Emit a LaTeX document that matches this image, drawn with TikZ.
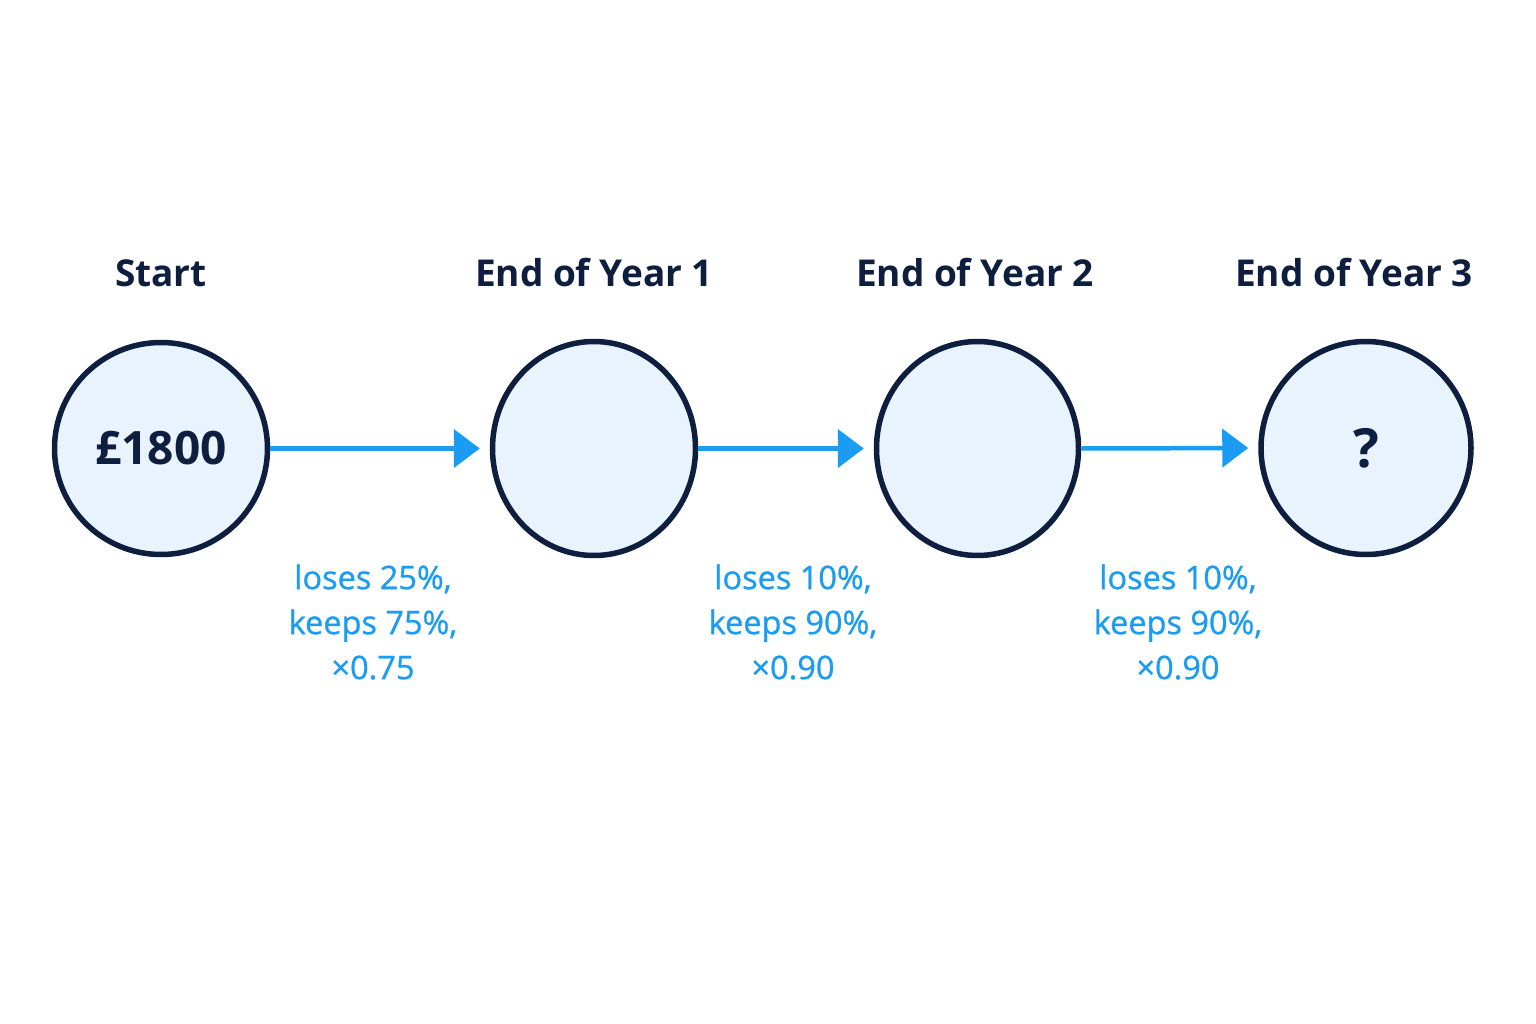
\documentclass[tikz,border=0pt]{standalone}
\usepackage{fontspec}
\setmainfont{Open Sans}
\newfontfamily\lblfont[FakeBold=0.8]{Open Sans}
\usetikzlibrary{arrows.meta,shapes.geometric}
\definecolor{navy}{HTML}{0E1E3F}
\definecolor{fillc}{HTML}{E9F3FD}
\definecolor{blu}{HTML}{1A9CF2}
\begin{document}
\begin{tikzpicture}[x=1pt,y=-1pt,
  stage/.style={ellipse,draw=navy,line width=5.5pt,fill=fillc,inner sep=0pt,font=\fontsize{46}{50}\selectfont\bfseries,text=navy},
  title/.style={font=\fontsize{37}{42}\selectfont\bfseries,text=navy},
  lbl/.style={font=\fontsize{32.5}{45}\lblfont,text=blu,align=center},
  flow/.style={draw=blu,line width=4.5pt,-{Triangle[length=26pt,width=38pt]},shorten >=10pt}]
\useasboundingbox (0,0) rectangle (1536,1024);
\fill[white] (0,0) rectangle (1536,1024);
\node[stage,minimum width=213pt,minimum height=212pt] (s0) at (161,448.5) {£1800};
\node[stage,minimum width=203pt,minimum height=214pt] (s1) at (594,448.5) {};
\node[stage,minimum width=202pt,minimum height=214pt] (s2) at (977.5,448.5) {};
\node[stage,minimum width=210pt,minimum height=213pt,font=\fontsize{54}{58}\selectfont\bfseries] (s3) at (1366,448) {?};
\node[title] (t0) at (161,273) {Start};
\node[title] (t1) at (594,273) {End of Year 1};
\node[title] (t2) at (975,273) {End of Year 2};
\node[title] (t3) at (1354,273) {End of Year 3};
\draw[flow] (s0.east) -- (s1.west);
\draw[flow] (s1.east) -- (s2.west);
\draw[flow] (s2.east) -- (s3.west);
\node[lbl] (l0) at (373,622) {loses 25\%,\\keeps 75\%,\\×0.75};
\node[lbl] (l1) at (793,622) {loses 10\%,\\keeps 90\%,\\×0.90};
\node[lbl] (l2) at (1178,622) {loses 10\%,\\keeps 90\%,\\×0.90};
\end{tikzpicture}
\end{document}
